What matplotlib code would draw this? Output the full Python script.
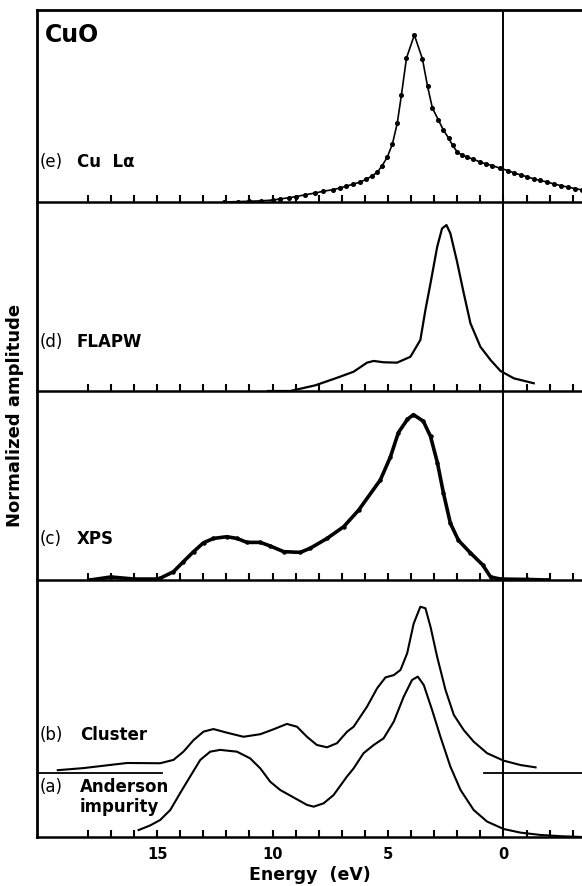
import matplotlib
matplotlib.use("Agg")
import matplotlib.pyplot as plt

plt.rcParams["font.family"] = ["DejaVu Sans"]

# Energy axis (eV, binding energy, drawn reversed)
tick_positions = list(range(18, -4, -1))
tick_labels = ["", "", "", "15", "", "", "", "", "10", "", "", "", "", "5",
               "", "", "", "", "0", "", "", ""]

# (e) Cu L-alpha emission
cu_la_e = [12.1, 11.5, 11.0, 10.5, 10.0, 9.67, 9.3, 9.0, 8.6, 8.15, 7.8, 7.4,
           7.07, 6.8, 6.5, 6.2, 5.95, 5.7, 5.46, 5.25, 5.03, 4.81, 4.6, 4.42,
           4.2, 3.86, 3.51, 3.29, 3.08, 2.82, 2.6, 2.38, 2.2, 2.0, 1.8, 1.56,
           1.3, 1.0, 0.75, 0.5, 0.17, -0.2, -0.45, -0.74, -1.0, -1.3, -1.6,
           -1.9, -2.2, -2.5, -2.8, -3.1, -3.4]
cu_la_y = [0.0, 0.002, 0.004, 0.006, 0.01, 0.016, 0.022, 0.028, 0.037, 0.047,
           0.056, 0.064, 0.073, 0.083, 0.093, 0.104, 0.118, 0.135, 0.156,
           0.19, 0.234, 0.302, 0.41, 0.557, 0.75, 0.87, 0.745, 0.604, 0.49,
           0.427, 0.375, 0.333, 0.295, 0.26, 0.245, 0.234, 0.222, 0.208,
           0.198, 0.19, 0.177, 0.163, 0.152, 0.141, 0.132, 0.121, 0.112,
           0.104, 0.093, 0.085, 0.077, 0.07, 0.063]

# (d) FLAPW
flapw_e = [10.2, 9.23, 8.15, 7.37, 7.07, 6.49, 5.91, 5.62, 5.19, 4.61, 4.03,
           3.6, 3.38, 3.16, 2.87, 2.66, 2.47, 2.3, 2.01, 1.72, 1.43, 1.0, 0.56,
           0.13, -0.45, -1.31]
flapw_y = [0.0, 0.0, 0.03, 0.063, 0.076, 0.102, 0.15, 0.159, 0.152, 0.15,
           0.181, 0.27, 0.429, 0.57, 0.763, 0.86, 0.878, 0.834, 0.684, 0.517,
           0.358, 0.234, 0.164, 0.106, 0.067, 0.041]

# (c) XPS
xps_e = [17.9, 17.0, 16.0, 15.0, 14.87, 14.29, 13.86, 13.42, 12.99, 12.56,
         11.98, 11.54, 11.11, 10.53, 10.1, 9.52, 8.8, 8.37, 7.64, 6.92, 6.27,
         5.33, 4.9, 4.55, 4.16, 3.9, 3.47, 3.16, 2.86, 2.6, 2.3, 1.95, 1.43,
         0.9, 0.56, 0.13, -1.0, -1.9]
xps_y = [0.0, 0.016, 0.005, 0.005, 0.009, 0.044, 0.097, 0.15, 0.197, 0.22,
         0.229, 0.22, 0.199, 0.199, 0.18, 0.15, 0.146, 0.168, 0.22, 0.282,
         0.37, 0.53, 0.65, 0.78, 0.85, 0.875, 0.84, 0.76, 0.62, 0.46, 0.3,
         0.21, 0.143, 0.08, 0.016, 0.005, 0.003, 0.0]

# (b) Cluster
cluster_e = [19.3, 18.2, 16.3, 14.87, 14.29, 13.86, 13.42, 12.99, 12.56,
             11.98, 11.26, 10.53, 9.96, 9.38, 8.94, 8.51, 8.08, 7.64, 7.21,
             6.77, 6.49, 5.91, 5.47, 5.11, 4.75, 4.46, 4.17, 3.89, 3.6, 3.38,
             3.16, 2.87, 2.51, 2.15, 1.72, 1.29, 0.71, -0.01, -0.74, -1.39]
cluster_y = [0.26, 0.268, 0.288, 0.287, 0.30, 0.332, 0.377, 0.41, 0.42,
             0.406, 0.39, 0.40, 0.419, 0.44, 0.429, 0.39, 0.358, 0.349, 0.365,
             0.41, 0.429, 0.507, 0.579, 0.621, 0.63, 0.65, 0.715, 0.83, 0.896,
             0.89, 0.818, 0.70, 0.572, 0.475, 0.416, 0.371, 0.326, 0.297,
             0.28, 0.271]

# (a) Anderson impurity
anderson_e = [15.8, 15.3, 14.87, 14.43, 14.0, 13.57, 13.13, 12.7, 12.27,
              11.54, 10.97, 10.53, 10.1, 9.67, 9.09, 8.51, 8.22, 7.79, 7.36,
              6.78, 6.49, 6.06, 5.62, 5.19, 4.75, 4.32, 3.96, 3.71, 3.45,
              3.09, 2.73, 2.3, 1.86, 1.29, 0.71, -0.01, -0.74, -1.6, -2.5,
              -3.4]
anderson_y = [0.027, 0.045, 0.066, 0.105, 0.171, 0.235, 0.30, 0.332, 0.339,
              0.332, 0.306, 0.267, 0.215, 0.183, 0.154, 0.125, 0.118, 0.131,
              0.163, 0.235, 0.267, 0.326, 0.358, 0.384, 0.449, 0.546, 0.611,
              0.624, 0.591, 0.494, 0.39, 0.274, 0.183, 0.105, 0.06, 0.031,
              0.017, 0.008, 0.003, 0.0]

# reference baselines drawn in the bottom panel
base_left_e = [20.1, 14.8]
base_right_e = [0.85, -3.4]
base_level = 0.25

W, H = 582, 886
fig = plt.figure(figsize=(W / 100, H / 100), dpi=100)
left = 37 / W
width = 1 - left
edges = [10, 202, 391, 580, 837]


def make_panel(top_px, bottom_px):
    ax = fig.add_axes([left, 1 - bottom_px / H, width, (bottom_px - top_px) / H])
    ax.set_xlim(20.2, -3.4)
    ax.set_ylim(0, 1)
    ax.set_yticks([])
    ax.spines["right"].set_visible(False)
    ax.spines["top"].set_visible(False)
    ax.spines["left"].set_linewidth(2)
    ax.spines["bottom"].set_linewidth(1.8)
    ax.set_xticks(tick_positions)
    ax.set_xticklabels([])
    ax.tick_params(axis="x", direction="in", length=5, width=1.5,
                   colors="black")
    ax.axvline(0, color="black", lw=1.4)
    ax.patch.set_alpha(0)
    return ax


ax_e = make_panel(edges[0], edges[1])
ax_e.spines["top"].set_visible(True)
ax_e.spines["top"].set_linewidth(2)
ax_d = make_panel(edges[1], edges[2])
ax_c = make_panel(edges[2], edges[3])
ax_ab = make_panel(edges[3], edges[4])

ax_e.plot(cu_la_e, cu_la_y, color="black", lw=1.2, marker="o", ms=2.6)
ax_d.plot(flapw_e, flapw_y, color="black", lw=1.6, solid_joinstyle="round")
ax_c.plot(xps_e, xps_y, color="black", lw=2.6, marker="o", ms=2.2,
          solid_joinstyle="round")
ax_ab.plot(cluster_e, cluster_y, color="black", lw=1.5,
           solid_joinstyle="round")
ax_ab.plot(anderson_e, anderson_y, color="black", lw=1.5,
           solid_joinstyle="round")
ax_ab.plot(base_left_e, [base_level] * 2, color="black", lw=1.3)
ax_ab.plot(base_right_e, [base_level] * 2, color="black", lw=1.3)

ax_ab.set_xticklabels(tick_labels, fontsize=10.5, fontweight="bold")
ax_ab.tick_params(axis="x", pad=7)
ax_ab.set_xlabel("Energy  (eV)", fontsize=12.5, fontweight="bold", labelpad=3)

fig.text(15 / W, 1 - 415 / H, "Normalized amplitude", rotation=90,
         ha="center", va="center", fontsize=13, fontweight="bold")

lab = dict(va="center", fontsize=12)
ax_e.text(0.015, 0.87, "CuO", transform=ax_e.transAxes, va="center",
          fontsize=17, fontweight="bold")
ax_e.text(0.005, 0.21, "(e)", transform=ax_e.transAxes, **lab)
ax_e.text(0.073, 0.21, "Cu  Lα", transform=ax_e.transAxes,
          fontweight="bold", **lab)
ax_d.text(0.005, 0.26, "(d)", transform=ax_d.transAxes, **lab)
ax_d.text(0.073, 0.26, "FLAPW", transform=ax_d.transAxes, fontweight="bold",
          **lab)
ax_c.text(0.005, 0.217, "(c)", transform=ax_c.transAxes, **lab)
ax_c.text(0.073, 0.217, "XPS", transform=ax_c.transAxes, fontweight="bold",
          **lab)
ax_ab.text(0.005, 0.397, "(b)", transform=ax_ab.transAxes, **lab)
ax_ab.text(0.079, 0.397, "Cluster", transform=ax_ab.transAxes,
           fontweight="bold", **lab)
ax_ab.text(0.005, 0.195, "(a)", transform=ax_ab.transAxes, **lab)
ax_ab.text(0.079, 0.195, "Anderson", transform=ax_ab.transAxes,
           fontweight="bold", **lab)
ax_ab.text(0.079, 0.117, "impurity", transform=ax_ab.transAxes,
           fontweight="bold", **lab)

fig.savefig("out.png", dpi=100)
